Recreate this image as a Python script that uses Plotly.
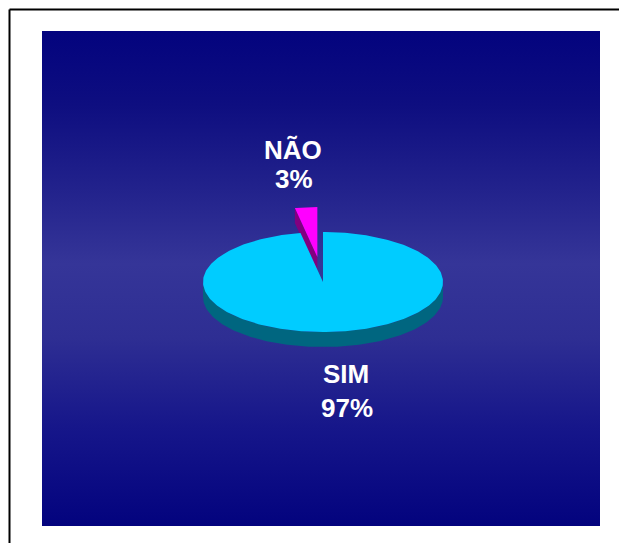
import numpy as np
import plotly.graph_objects as go

# ---- data ----
labels = ["SIM", "NÃO"]
values = [97, 3]
top_colors = ["#00CCFF", "#FF00FF"]
side_colors = ["#006680", "#800080"]
explode = [0.0, 0.5]

# ---- layout constants (screen-pixel-like data units) ----
W, H = 619, 543
CX, CY = 323, 282          # pie centre
RX, RY = 120, 50           # ellipse radii
DEPTH = 15                 # thickness of the pie
PANEL = (42, 31, 600, 526) # blue panel x0, y0, x1, y1

def pt(theta_deg, r=1.0, ox=0.0, oy=0.0, dz=0.0):
    t = np.radians(theta_deg)
    return CX + ox + r * RX * np.sin(t), CY + oy - r * RY * np.cos(t) + dz

fig = go.Figure()

# background panel with vertical gradient
x0, y0, x1, y1 = PANEL
fig.add_trace(go.Scatter(
    x=[x0, x1, x1, x0, x0], y=[y0, y0, y1, y1, y0],
    mode="lines", fill="toself", line=dict(width=0),
    fillgradient=dict(type="vertical", start=y0, stop=y1,
                      colorscale=[[0, "#03037e"], [0.15, "#0e0e80"], [0.32, "#22228c"],
                                  [0.47, "#353598"], [0.62, "#2e2e93"], [0.8, "#16168a"],
                                  [1, "#03037e"]]),
    hoverinfo="skip", showlegend=False))

total = sum(values)
angles = []
a = 0.0
for v in values:
    angles.append((a, a + 360.0 * v / total))
    a += 360.0 * v / total

# draw back slices first (NÃO), then SIM on top
order = sorted(range(len(values)), key=lambda i: -explode[i])
for i in order:
    a0, a1 = angles[i]
    mid = np.radians((a0 + a1) / 2)
    ox = explode[i] * RX * np.sin(mid)
    oy = -explode[i] * RY * np.cos(mid)
    # visible radial wall on start edge (for the back slice)
    if explode[i] > 0:
        cx_, cy_ = CX + ox, CY + oy
        px, py = pt(a0, ox=ox, oy=oy)
        fig.add_trace(go.Scatter(
            x=[cx_, px, px, cx_, cx_], y=[cy_, py, py + DEPTH, cy_ + DEPTH, cy_],
            mode="lines", fill="toself", fillcolor=side_colors[i], line=dict(width=0),
            hoverinfo="skip", showlegend=False))
    # front curved wall
    lo, hi = max(a0, 90), min(a1, 270)
    if hi > lo:
        th = np.linspace(lo, hi, 120)
        xs, ys = pt(th, ox=ox, oy=oy)
        xb, yb = pt(th[::-1], ox=ox, oy=oy, dz=DEPTH)
        fig.add_trace(go.Scatter(
            x=np.concatenate([xs, xb, xs[:1]]), y=np.concatenate([ys, yb, ys[:1]]),
            mode="lines", fill="toself", fillcolor=side_colors[i], line=dict(width=0),
            hoverinfo="skip", showlegend=False))
    # top face
    th = np.linspace(a0, a1, 300)
    xs, ys = pt(th, ox=ox, oy=oy)
    fig.add_trace(go.Scatter(
        x=np.concatenate([[CX + ox], xs, [CX + ox]]),
        y=np.concatenate([[CY + oy], ys, [CY + oy]]),
        mode="lines", fill="toself", fillcolor=top_colors[i], line=dict(width=0),
        hoverinfo="skip", showlegend=False))

# labels
label_pos = {"SIM": ((346, 374), (347, 408)), "NÃO": ((292.5, 149.5), (294, 179))}
font = dict(family="Liberation Sans, Arial, sans-serif", size=26, color="white")
for lab, v in zip(labels, values):
    (nx, ny), (vx, vy) = label_pos[lab]
    fig.add_annotation(x=nx, y=ny, text=f"<b>{lab}</b>", showarrow=False,
                       xanchor="center", yanchor="middle", font=font)
    fig.add_annotation(x=vx, y=vy, text=f"<b>{v}%</b>", showarrow=False,
                       xanchor="center", yanchor="middle", font=font)

# outer frame (only top and left edges are inside the picture)
frame = dict(color="black", width=2)
fig.add_shape(type="line", xref="x", yref="y", x0=9.5, y0=9.5, x1=W, y1=9.5,
              line=frame, layer="above")
fig.add_shape(type="line", xref="x", yref="y", x0=9.5, y0=9.5, x1=9.5, y1=H,
              line=frame, layer="above")

fig.update_layout(
    width=W, height=H, margin=dict(l=0, r=0, t=0, b=0),
    paper_bgcolor="white", plot_bgcolor="white",
    xaxis=dict(range=[0, W], visible=False, fixedrange=True),
    yaxis=dict(range=[H, 0], visible=False, fixedrange=True),
    showlegend=False,
)

fig.write_html(
    "out.html",
    post_script="document.body.style.margin='0';"
                "document.documentElement.style.overflow='hidden';"
                "document.body.style.overflow='hidden';"
                "var s=document.createElement('style');"
                "s.textContent='.modebar-container{display:none !important;}';"
                "document.head.appendChild(s);",
)
